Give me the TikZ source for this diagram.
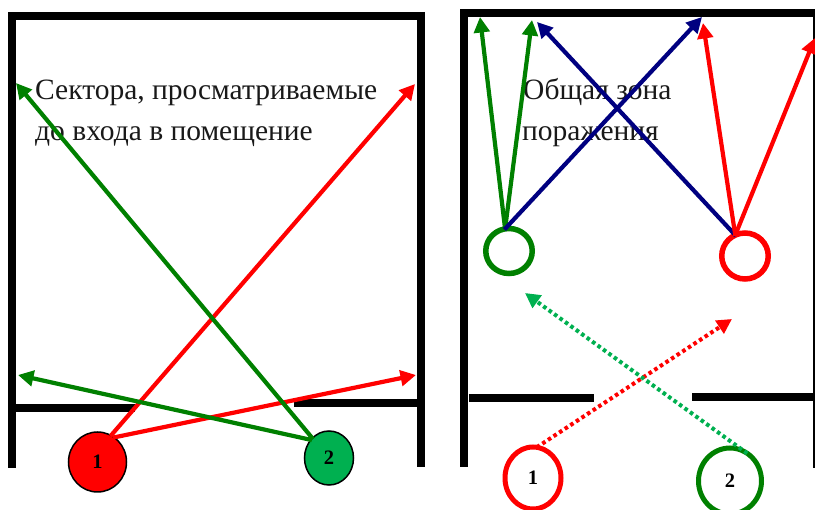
\documentclass[tikz,border=0pt]{standalone}
\usepackage{fontspec}
\setmainfont{Liberation Serif}
\usetikzlibrary{arrows.meta,shapes.geometric}
\definecolor{gA}{HTML}{008000}
\definecolor{gB}{HTML}{00B050}
\definecolor{nv}{HTML}{000080}
\tikzset{
  wall/.style={line width=8pt,black,line cap=butt},
  shelf/.style={line width=7.5pt,black,line cap=butt},
  ray/.style={line width=4.2pt,-{Triangle[length=15.5pt,width=15.5pt]},shorten <=-1pt},
  dotray/.style={line width=4pt,dash pattern=on 3.6pt off 3.1pt,-{Triangle[length=15pt,width=15pt]}},
  lbl/.style={anchor=base west,inner sep=0pt,font=\fontsize{29.5pt}{34pt}\selectfont,text=black!90},
  num/.style={font=\fontsize{20.5pt}{24pt}\selectfont\bfseries,inner sep=0pt},
  circ/.style={ellipse,inner sep=0pt,outer sep=0pt,draw,num},
}
\begin{document}
\begin{tikzpicture}[x=1pt,y=-1pt]
\useasboundingbox (0,0) rectangle (815,510);
\clip (0,0) rectangle (815,510);
% left room
\draw[wall] (12,468) -- (12,12) ;
\draw[wall] (8,16) -- (425,16);
\draw[wall] (421,12) -- (421,467);
\draw[shelf] (12,408) -- (135,408);
\draw[shelf] (294,403) -- (421,403);
% right room
\draw[wall] (464,467) -- (464,9);
\draw[wall] (460,13) -- (815,13);
\draw[wall] (817,9) -- (817,468);
\draw[shelf] (469,398) -- (594,398);
\draw[shelf] (692,397) -- (815,397);
% text
\node[lbl] (t1) at (35,100) {Сектора, просматриваемые};
\node[lbl] (t2) at (35,141) {до входа в помещение};
\node[lbl] (t3) at (523,100) {Общая зона};
\node[lbl] (t4) at (522,141) {поражения};
% circles
\node[circ,fill=red,line width=1.5pt,minimum width=58pt,minimum height=60pt] (a1) at (97.5,462) {1};
\node[circ,fill=gB,line width=1.5pt,minimum width=49pt,minimum height=54pt] (a2) at (329,458) {2};
\node[circ,draw=gA,line width=5.5pt,minimum width=46.5pt,minimum height=45pt] (g) at (509,251) {};
\node[circ,draw=red,line width=5.5pt,minimum width=46.5pt,minimum height=46pt] (r) at (745,256) {};
\node[circ,draw=red,line width=5pt,minimum width=56pt,minimum height=62pt] (b1) at (533,478) {1};
\node[circ,draw=gA,line width=5pt,minimum width=63pt,minimum height=66pt] (b2) at (730,481) {2};
% free ends
\coordinate (e1) at (415,84);
\coordinate (e2) at (416,375);
\coordinate (e3) at (16,83);
\coordinate (e4) at (18,375);
\coordinate (e5) at (480,17);
\coordinate (e6) at (532,20);
\coordinate (e7) at (702,17);
\coordinate (e8) at (537,22);
\coordinate (e9) at (703,23);
\coordinate (e10) at (815,38);
\coordinate (e11) at (732,319);
\coordinate (e12) at (525,293);
% rays
\draw[ray,red] (a1.63) -- (e1);
\draw[ray,red] (a1.56) -- (e2);
\draw[ray,gA] (a2.130) -- (e3);
\draw[ray,gA] (a2.135) -- (e4);
\draw[ray,gA] (g.100) -- (e5);
\draw[ray,gA] (g.100) -- (e6);
\draw[ray,nv] (g.100) -- (e7);
\draw[ray,nv] (r.115) -- (e8);
\draw[ray,red] (r.115) -- (e9);
\draw[ray,red] (r.115) -- (e10);
\draw[dotray,red] (b1.83) -- (e11);
\draw[dotray,gB] (b2.58) -- (e12);
\end{tikzpicture}
\end{document}
